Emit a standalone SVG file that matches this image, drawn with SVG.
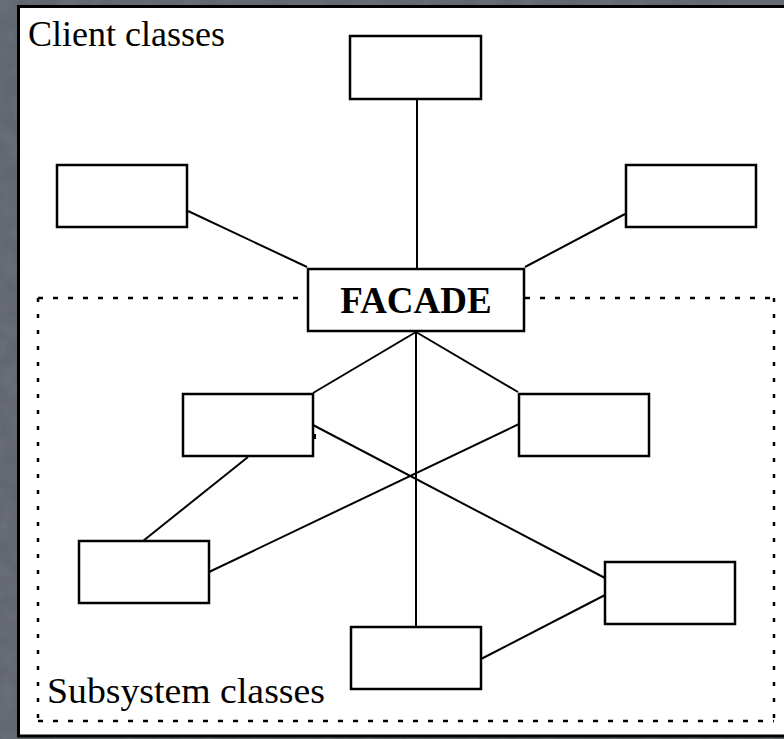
<svg xmlns="http://www.w3.org/2000/svg" width="784" height="739" viewBox="0 0 784 739">
  <defs>
    <filter id="granite" x="0" y="0" width="100%" height="100%">
      <feTurbulence type="fractalNoise" baseFrequency="0.05" numOctaves="3" seed="4"/>
      <feColorMatrix type="matrix" values="0 0 0 0 0.40  0 0 0 0 0.42  0 0 0 0 0.46  0.5 0 0 0 -0.15"/>
    </filter>
  </defs>
  <style>
    .box { fill: #ffffff; stroke: #000000; stroke-width: 2.5; }
    .conn { stroke: #000000; stroke-width: 2; fill: none; }
    .dash-h { stroke: #000000; stroke-width: 2.5; fill: none; stroke-dasharray: 5 10; }
    .dash-v { stroke: #000000; stroke-width: 2.5; fill: none; stroke-dasharray: 4 12; }
    .label { font-family: "Liberation Serif", "Times New Roman", serif; font-size: 36px; fill: #000000; }
    .title { font-family: "Liberation Serif", "Times New Roman", serif; font-size: 37px; font-weight: bold; fill: #000000; }
  </style>
  <!-- background -->
  <rect x="0" y="0" width="784" height="739" fill="#62666f"/>
  <rect x="0" y="0" width="784" height="739" filter="url(#granite)" opacity="0.5"/>
  <!-- white canvas -->
  <rect x="18.5" y="6.5" width="780" height="729.5" fill="#ffffff" stroke="#000000" stroke-width="3"/>

  <!-- subsystem dotted boundary -->
  <g id="subsystem-boundary">
    <path class="dash-h" d="M38,298 H307 M525,298 H774 M38,721 H774"/>
    <path class="dash-v" d="M38,298 V721 M774,298 V721"/>
  </g>

  <text class="label" x="28" y="46">Client classes</text>
  <text class="label" x="47" y="703" textLength="278" lengthAdjust="spacingAndGlyphs">Subsystem classes</text>

  <g id="connectors">
    <line class="conn" x1="417" y1="99" x2="417" y2="269"/>
    <line class="conn" x1="188" y1="211" x2="307" y2="267"/>
    <line class="conn" x1="625" y1="214" x2="525" y2="267"/>
    <line class="conn" x1="416" y1="332" x2="313" y2="393"/>
    <line class="conn" x1="416" y1="332" x2="518" y2="392"/>
    <line class="conn" x1="416" y1="332" x2="416" y2="627"/>
    <line class="conn" x1="313" y1="425" x2="605" y2="578"/>
    <line class="conn" x1="519" y1="424" x2="209" y2="572"/>
    <line class="conn" x1="248" y1="457" x2="143" y2="541"/>
    <line class="conn" x1="605" y1="595" x2="481" y2="659"/>
  </g>

  <g id="client-top"><rect class="box" x="350" y="36" width="131" height="63"/></g>
  <g id="client-left"><rect class="box" x="57" y="165" width="130" height="62"/></g>
  <g id="client-right"><rect class="box" x="626" y="165" width="130" height="62"/></g>
  <g id="facade">
    <rect class="box" x="308" y="269" width="216" height="62"/>
    <text class="title" x="416" y="313" text-anchor="middle">FACADE</text>
  </g>
  <g id="sub-left">
    <rect class="box" x="183" y="394" width="130" height="62"/>
    <rect x="313" y="434" width="3" height="5" fill="#000000"/>
  </g>
  <g id="sub-right"><rect class="box" x="519" y="394" width="130" height="62"/></g>
  <g id="sub-lower-left"><rect class="box" x="79" y="541" width="130" height="62"/></g>
  <g id="sub-lower-right"><rect class="box" x="605" y="562" width="130" height="62"/></g>
  <g id="sub-bottom"><rect class="box" x="351" y="627" width="130" height="62"/></g>
</svg>
